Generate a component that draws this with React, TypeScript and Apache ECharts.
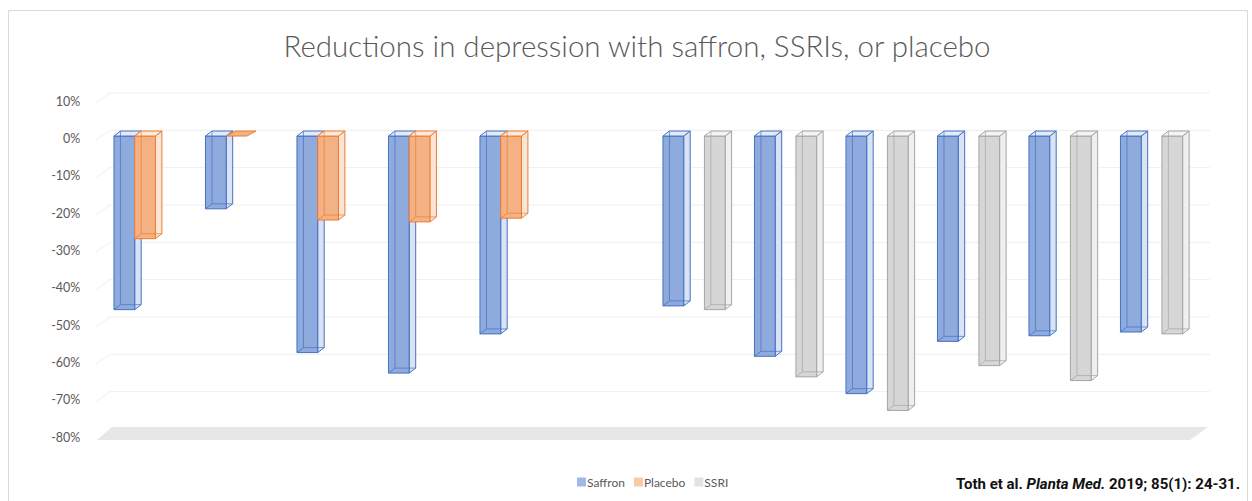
import React, { useEffect, useRef } from "react";
import * as echarts from "echarts";

const categories = ["S1", "S2", "S3", "S4", "S5", "S6", "S7", "S8", "S9", "S10", "S11", "S12"];
const saffron = [-46.5, -19.5, -58, -63.5, -53, null, -45.5, -59, -69, -55, -53.5, -52.5];
const placebo = [-27.5, 0, -22.5, -23, -22, null, null, null, null, null, null, null];
const ssri = [null, null, null, null, null, null, -46.5, -64.5, -73.5, -61.5, -65.5, -53];
const yTicks = [10, 0, -10, -20, -30, -40, -50, -60, -70, -80];
const seriesNames = ["Saffron", "Placebo", "SSRI"];
const titleText = "Reductions in depression with saffron, SSRIs, or placebo";

const palettes = [
  { front: "#8faadc", edge: "#4472c4", side: "#dae3f3", top: "#e4ebf7", legend: "#9fb8e6" },
  { front: "#f4b183", edge: "#ed7d31", side: "#fbe5d6", top: "#fcebdf", legend: "#f8c9a2" },
  { front: "#d6d6d6", edge: "#a5a5a5", side: "#efefef", top: "#f4f4f4", legend: "#e3e3e3" },
];

const DX = 6.5;
const DY = -5;
const FRONT_SHIFT = -2.3;

function makeBarRender(slot: number) {
  const pal = palettes[slot];
  return (params: any, api: any) => {
    const v = api.value(1);
    if (v === null || v === undefined || isNaN(v)) return null;
    const idx = api.value(0);
    const c0 = api.coord([idx, 0]);
    const c1 = api.coord([idx, v]);
    const band = api.size([1, 0])[0];
    const w = band * 0.2265;
    const x = c0[0] + (slot - 1.5) * w;
    const yTop = Math.min(c0[1], c1[1]) + FRONT_SHIFT;
    const yBot = Math.max(c0[1], c1[1]) + FRONT_SHIFT;
    const edge = { stroke: pal.edge, lineWidth: 1 };
    const children: any[] = [];
    const flat = yBot - yTop <= 0.5;
    if (!flat) {
      children.push({
        type: "polygon",
        shape: { points: [[x + w, yTop], [x + w + DX, yTop + DY], [x + w + DX, yBot + DY], [x + w, yBot]] },
        style: { fill: pal.side, ...edge },
      });
      children.push({
        type: "rect",
        shape: { x, y: yTop, width: w, height: yBot - yTop },
        style: { fill: pal.front, ...edge },
      });
    }
    const tdx = flat ? DX * 1.4 : DX;
    children.push({
      type: "polygon",
      shape: { points: [[x, yTop], [x + tdx, yTop + DY], [x + w + tdx, yTop + DY], [x + w, yTop]] },
      style: { fill: flat ? pal.front : pal.top, ...edge },
    });
    if (!flat) {
      children.push({
        type: "polyline",
        shape: { points: [[x + DX, yTop + DY], [x + DX, yBot + DY], [x + w + DX, yBot + DY]] },
        style: { fill: "none", stroke: pal.edge, lineWidth: 1, opacity: 0.7 },
      });
      children.push({
        type: "line",
        shape: { x1: x, y1: yBot, x2: x + DX, y2: yBot + DY },
        style: { stroke: pal.edge, lineWidth: 1, opacity: 0.8 },
      });
    }
    return { type: "group", children };
  };
}

function gridRender(params: any, api: any) {
  const v = api.value(1);
  const cs = params.coordSys;
  const y = api.coord([0, v])[1];
  const left = cs.x;
  const right = cs.x + cs.width;
  if (v === -80) {
    return {
      type: "polygon",
      shape: {
        points: [[left - 2.3, y + 3], [left + 12.7, y - 10], [right + 10.7, y - 10], [right - 7.3, y + 3]],
      },
      style: { fill: "#e7e7e7" },
    };
  }
  return {
    type: "polyline",
    shape: { points: [[left - 4.3, y + 2], [left + 10.7, y - 8], [right + 12.7, y - 8]] },
    style: { fill: "none", stroke: "#efefef", lineWidth: 1 },
  };
}

export default function App() {
  const ref = useRef<HTMLDivElement>(null);
  useEffect(() => {
    if (!ref.current) return;
    const chart = echarts.init(ref.current, null, { renderer: "svg" });
    const seriesData = [saffron, placebo, ssri];
    chart.setOption({
      animation: false,
      backgroundColor: "#ffffff",
      title: {
        text: titleText,
        left: 632,
        textAlign: "center",
        top: 25,
        textStyle: { fontFamily: "Lato", fontWeight: 300, fontSize: 29.5, color: "#595959" },
      },
      legend: {
        data: seriesNames.map((name, k) => ({ name, itemStyle: { color: palettes[k].legend } })),
        left: 572,
        top: 471,
        icon: "rect",
        itemWidth: 9,
        itemHeight: 9,
        itemGap: 9,
        textStyle: { fontFamily: "Lato", fontSize: 12, color: "#595959", padding: [0, 0, 0, -4] },
      },
      grid: { left: 99.3, right: 54.7, top: 101, bottom: 64 },
      xAxis: {
        type: "category",
        data: categories,
        axisLine: { show: false },
        axisTick: { show: false },
        axisLabel: { show: false },
        splitLine: { show: false },
      },
      yAxis: {
        type: "value",
        min: -80,
        max: 10,
        interval: 10,
        axisLine: { show: false },
        axisTick: { show: false },
        splitLine: { show: false },
        axisLabel: {
          formatter: "{value}%",
          fontFamily: "Lato",
          fontSize: 12.5,
          color: "#595959",
          margin: 19,
        },
      },
      graphic: [
        {
          type: "rect",
          shape: { x: 8.5, y: 10.5, width: 1239, height: 520 },
          style: { fill: "none", stroke: "#d9d9d9", lineWidth: 1 },
          silent: true,
        },
        {
          type: "text",
          right: 12,
          top: 476,
          style: {
            text: "{b|Toth et al. }{i|Planta Med.}{b| 2019; 85(1): 24-31.}",
            rich: {
              b: { fontFamily: "Roboto", fontWeight: "bold", fontSize: 15, fill: "#111111" },
              i: { fontFamily: "Roboto", fontWeight: "bold", fontStyle: "italic", fontSize: 15, fill: "#111111" },
            },
          },
        },
      ],
      series: [
        {
          type: "custom",
          name: "__grid",
          silent: true,
          z: 1,
          renderItem: gridRender,
          data: yTicks.map((v) => [0, v]),
          encode: { x: 0, y: 1 },
        },
        ...seriesNames.map((name, k) => ({
          type: "custom",
          name,
          z: 2 + k,
          renderItem: makeBarRender(k),
          itemStyle: { color: palettes[k].front },
          data: seriesData[k].map((v, i) => [i, v]),
          encode: { x: 0, y: 1 },
        })),
      ],
    });
    return () => chart.dispose();
  }, []);
  return (
    <div
      ref={ref}
      style={{ position: "fixed", left: 0, top: 0, width: 1252, height: 501, background: "#fff" }}
    />
  );
}
